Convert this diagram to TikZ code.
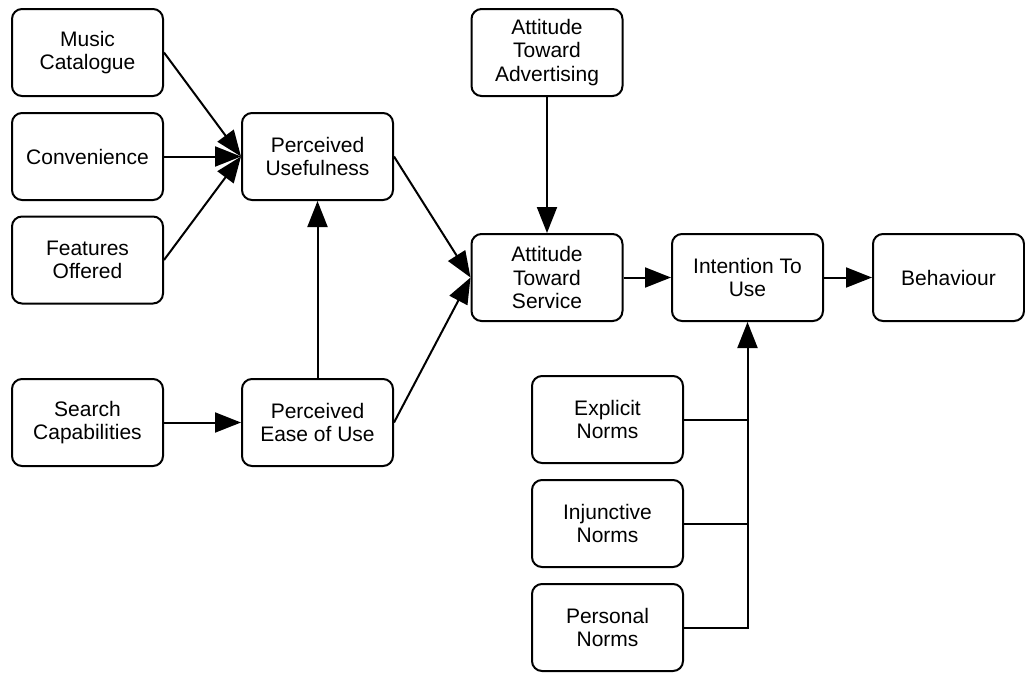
\documentclass[tikz,border=0pt]{standalone}
\usepackage{fontspec}
\setmainfont{Liberation Sans}
\usetikzlibrary{arrows.meta}
\begin{document}
\begin{tikzpicture}[x=1pt,y=-1pt,
  box/.style={draw, line width=2pt, rounded corners=10pt, minimum width=151pt,
    minimum height=87pt, inner sep=0pt, align=center,
    font=\fontsize{21pt}{23.5pt}\selectfont},
  link/.style={line width=2pt, -{Triangle[length=26pt,width=20pt]}},
  wire/.style={line width=2pt}]
\useasboundingbox (0,0) rectangle (1025,675);

% antecedents of usefulness and ease of use
\node[box] (music)  at (87.5,52.5)  {Music\\Catalogue};
\node[box] (conv)   at (87.5,156.5) {Convenience};
\node[box] (feat)   at (87.5,260)   {Features\\Offered};
\node[box] (search) at (87.5,422.5) {Search\\Capabilities};

% core constructs
\node[box] (pu)   at (317.5,156.5) {Perceived\\Usefulness};
\node[box] (peou) at (317.5,422.5) {Perceived\\Ease of Use};
\node[box] (ata)  at (547,52.5)    {Attitude\\Toward\\Advertising};
\node[box] (ats)  at (547,277.5)   {Attitude\\Toward\\Service};
\node[box] (itu)  at (747.5,277.5) {Intention To\\Use};
\node[box] (beh)  at (948.5,277.5) {Behaviour};

% norms
\node[box] (expl) at (607.5,419.5) {Explicit\\Norms};
\node[box] (inj)  at (607.5,523.5) {Injunctive\\Norms};
\node[box] (pers) at (607.5,627.5) {Personal\\Norms};

% connectors
\draw[link] (music.east) -- (pu.west);
\draw[link] (conv.east)  -- (pu.west);
\draw[link] (feat.east)  -- (pu.west);
\draw[link] (search)     -- (peou);
\draw[link] (peou.north) -- (pu.south);
\draw[link] (pu.east)    -- (ats.west);
\draw[link] (peou.east)  -- (ats.west);
\draw[link] (ata.south)  -- (ats.north);
\draw[link] (ats)        -- (itu);
\draw[link] (itu)        -- (beh);

% norms bus into intention
\draw[wire] (expl.east) -- (expl.east -| itu.south);
\draw[wire] (inj.east)  -- (inj.east -| itu.south);
\draw[link] (pers.east) -| (itu.south);
\end{tikzpicture}
\end{document}
